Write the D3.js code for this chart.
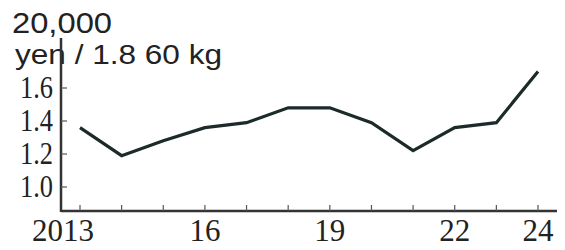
<!DOCTYPE html>
<html>
<head>
<meta charset="utf-8">
<script src="https://cdn.jsdelivr.net/npm/d3@7"></script>
<style>
  body { margin: 0; background: #fff; }
  svg { display: block; }
  .tick-label { font-family: "Liberation Serif", "Times New Roman", serif; font-size: 31px; fill: #222; }
  .unit { font-family: "Liberation Sans", Arial, sans-serif; fill: #222; }
</style>
</head>
<body>
<svg id="svg"></svg>
<script>
let width = 565, height = 250;

// data
let years = [2013, 2014, 2015, 2016, 2017, 2018, 2019, 2020, 2021, 2022, 2023, 2024];
let prices = [1.36, 1.19, 1.28, 1.36, 1.39, 1.48, 1.48, 1.39, 1.22, 1.36, 1.39, 1.70];
let yTicks = [1.0, 1.2, 1.4, 1.6];
let xLabelYears = [2013, 2016, 2019, 2022, 2024];
let xLabelText = ["2013", "16", "19", "22", "24"];

let svg = d3.select("#svg").attr("width", width).attr("height", height);

let xScale = d3.scaleLinear().domain([2013, 2024]).range([80, 538]);
let yScale = d3.scaleLinear().domain([1.0, 1.6]).range([187, 88]);

let axisLeftX = 61, axisBottomY = 211;

// unit labels
svg.append("text").attr("class", "unit")
  .attr("x", 12).attr("y", 33).attr("font-size", 30)
  .attr("textLength", 100).attr("lengthAdjust", "spacingAndGlyphs")
  .text("20,000");
svg.append("text").attr("class", "unit")
  .attr("x", 15).attr("y", 64).attr("font-size", 27)
  .attr("textLength", 207).attr("lengthAdjust", "spacingAndGlyphs")
  .text("yen / 1.8 60 kg");

// axes lines
svg.append("line")
  .attr("x1", axisLeftX).attr("x2", axisLeftX)
  .attr("y1", 38).attr("y2", axisBottomY + 1)
  .attr("stroke", "#333").attr("stroke-width", 2.5);
svg.append("line")
  .attr("x1", axisLeftX).attr("x2", 557)
  .attr("y1", axisBottomY).attr("y2", axisBottomY)
  .attr("stroke", "#333").attr("stroke-width", 2.5);

// y ticks (inside)
svg.selectAll(".ytick")
  .data(yTicks)
  .join("line")
  .attr("x1", axisLeftX).attr("x2", axisLeftX + 6)
  .attr("y1", d => yScale(d)).attr("y2", d => yScale(d))
  .attr("stroke", "#555").attr("stroke-width", 1.2);

svg.selectAll(".ylabel")
  .data(yTicks)
  .join("text")
  .attr("class", "tick-label")
  .attr("x", 53)
  .attr("y", d => yScale(d) + 10)
  .attr("text-anchor", "end")
  .attr("textLength", 33).attr("lengthAdjust", "spacingAndGlyphs")
  .text(d => d.toFixed(1));

// x ticks (inside)
svg.selectAll(".xtick")
  .data(years)
  .join("line")
  .attr("x1", d => xScale(d)).attr("x2", d => xScale(d))
  .attr("y1", axisBottomY).attr("y2", axisBottomY - 6)
  .attr("stroke", "#555").attr("stroke-width", 1.2);

svg.selectAll(".xlabel")
  .data(xLabelYears)
  .join("text")
  .attr("class", "tick-label")
  .attr("x", (d, i) => xScale(d) + (i === 0 ? -17 : 0))
  .attr("y", 241)
  .attr("text-anchor", "middle")
  .text((d, i) => xLabelText[i]);

// price line
let line = d3.line()
  .x((d, i) => xScale(years[i]))
  .y(d => yScale(d));

svg.append("path")
  .datum(prices)
  .attr("d", line)
  .attr("fill", "none")
  .attr("stroke", "#1c2a2a")
  .attr("stroke-width", 3.2)
  .attr("stroke-linejoin", "miter");
</script>
</body>
</html>
